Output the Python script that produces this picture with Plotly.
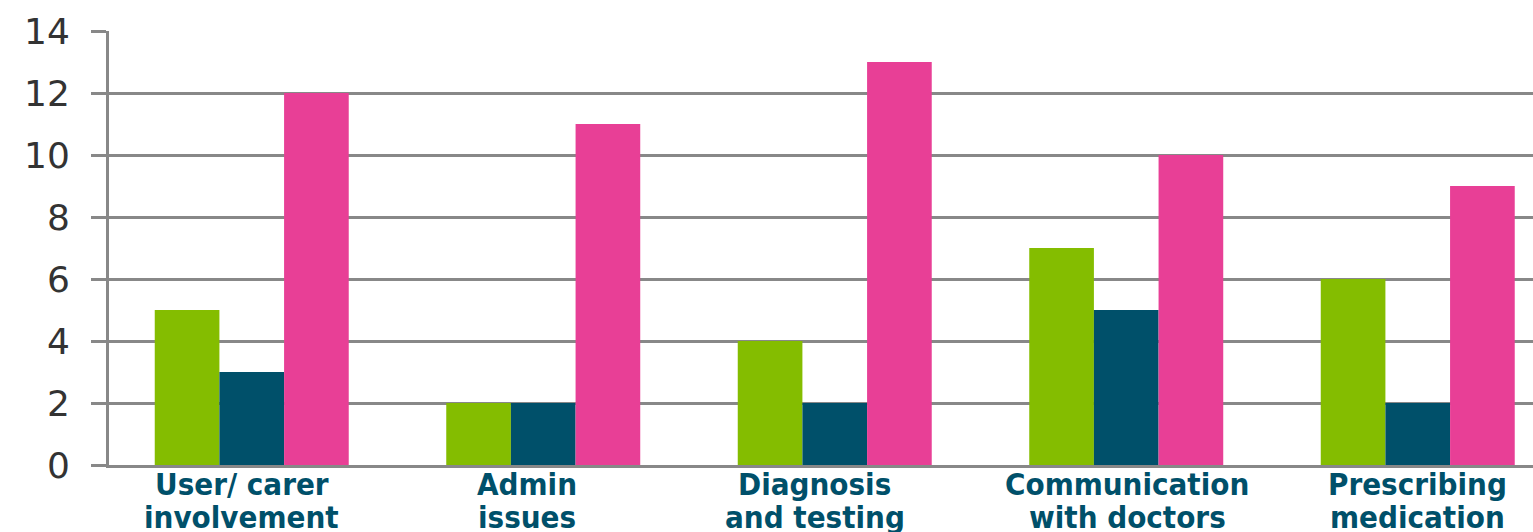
import plotly.graph_objects as go

categories = ["User/ carer involvement", "Admin issues", "Diagnosis and testing",
              "Communication with doctors", "Prescribing medication"]
label_line1 = ["User/ carer", "Admin", "Diagnosis", "Communication", "Prescribing"]
label_line2 = ["involvement", "issues", "and testing", "with doctors", "medication"]
series_green = [5, 2, 4, 7, 6]
series_teal = [3, 2, 2, 5, 2]
series_pink = [12, 11, 13, 10, 9]
y_ticks = [0, 2, 4, 6, 8, 10, 12, 14]

GREEN = "#84BD00"
TEAL = "#00506A"
PINK = "#E83F96"
GRID = "#888888"
LABEL_XSHIFT = [-10, -16, -20, 1, 0]  # label placement offsets seen in the reference

x_idx = list(range(len(categories)))

fig = go.Figure()
for name, vals, col in [("A", series_green, GREEN), ("B", series_teal, TEAL), ("C", series_pink, PINK)]:
    fig.add_trace(go.Bar(x=x_idx, y=vals, name=name, marker=dict(color=col, line=dict(width=0))))

lab_font = dict(family="DejaVu Sans Condensed, DejaVu Sans", size=31, color=TEAL, weight="bold")
for i in x_idx:
    fig.add_annotation(x=i, y=0, xref="x", yref="y", text=label_line1[i], showarrow=False,
                       yanchor="top", yshift=1, xshift=LABEL_XSHIFT[i], font=lab_font)
    fig.add_annotation(x=i, y=0, xref="x", yref="y", text=label_line2[i], showarrow=False,
                       yanchor="top", yshift=-32, xshift=LABEL_XSHIFT[i], font=lab_font)

fig.update_layout(
    width=1533, height=532,
    margin=dict(l=109, r=0, t=31, b=67),
    paper_bgcolor="white", plot_bgcolor="white",
    barmode="group", bargap=0.3345, bargroupgap=0,
    showlegend=False,
    xaxis=dict(range=[-0.4897, 4.3954], showticklabels=False, showgrid=False, zeroline=False,
               showline=True, linecolor=GRID, linewidth=3, ticks=""),
    yaxis=dict(range=[0, 14], tickvals=y_ticks, showgrid=True, gridcolor=GRID, gridwidth=3,
               zeroline=False, showline=True, linecolor=GRID, linewidth=3,
               ticks="outside", ticklen=15, tickwidth=3, tickcolor=GRID,
               ticklabelstandoff=14,
               tickfont=dict(family="DejaVu Sans", size=36, color="#333333")),
)

fig.write_html("out.html")
